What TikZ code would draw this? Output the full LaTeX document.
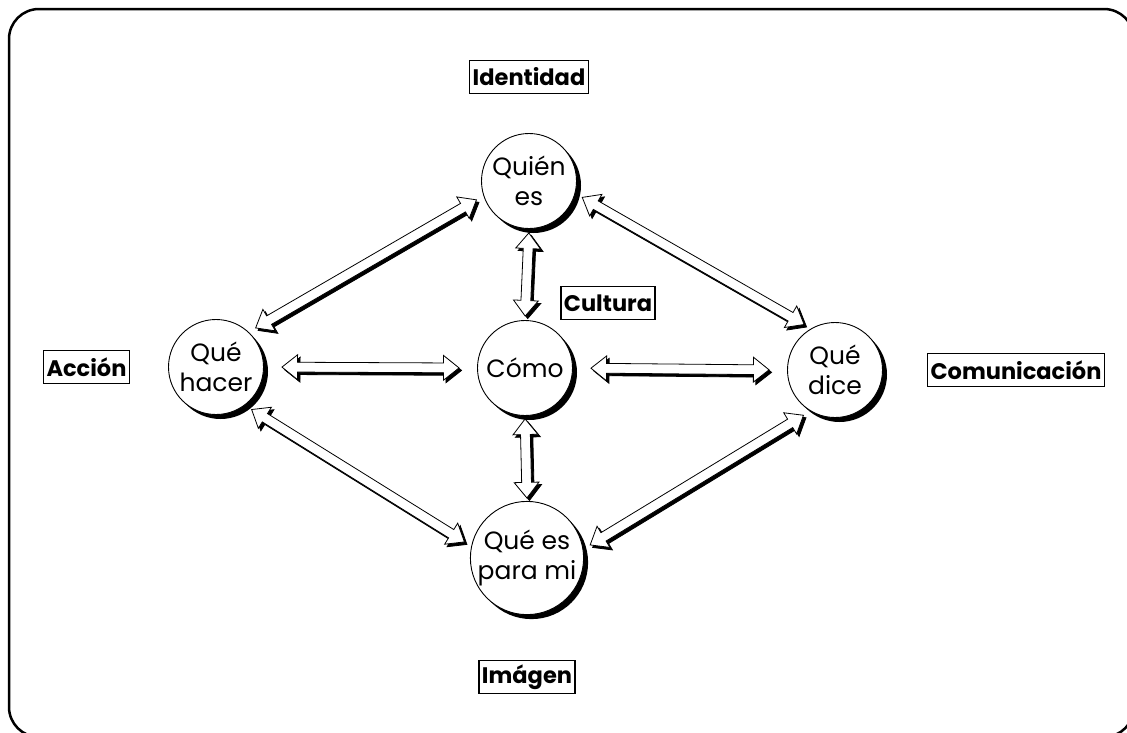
\documentclass[tikz,border=0pt]{standalone}
\usepackage{fontspec}
\setmainfont{Poppins}
\usetikzlibrary{shapes.arrows,shadows,calc,positioning}

\tikzset{
  topic/.style={circle, draw, line width=0.9pt, fill=white, minimum size=95pt, inner sep=0pt,
    align=center, font=\fontsize{25}{30}\selectfont,
    drop shadow={shadow xshift=4.5pt, shadow yshift=-4.5pt, opacity=1, fill=black}},
  tag/.style={draw, line width=1.2pt, inner sep=3pt, minimum height=33pt,
    font=\fontsize{22.5}{26}\selectfont\bfseries},
  arrbody/.style={double arrow, draw, fill=white, line width=0.8pt, inner sep=4.5pt,
    double arrow head extend=7.5pt, double arrow tip angle=77},
  arrshade/.style={arrbody, fill=black},
}

% hollow two-headed arrow between two points, shortened by #1 at both ends
\newcommand{\dblarrow}[3][8]{%
  \path let \p1=(#2), \p2=(#3), \n1={atan2(\y2-\y1,\x2-\x1)},
      \n2={veclen(\x2-\x1,\y2-\y1)-2*#1} in
    node[arrshade, minimum height=\n2, rotate=\n1] at ($(#2)!0.5!(#3)+(2.5pt,-2.5pt)$) {}
    node[arrbody, minimum height=\n2, rotate=\n1] at ($(#2)!0.5!(#3)$) {};
}

\begin{document}
\begin{tikzpicture}[x=1pt, y=-1pt]
    \useasboundingbox (0,0) rectangle (1127,732);
    \draw[line width=2.5pt, rounded corners=30pt] (9,9) rectangle (1134,737);

    \node[topic] at (529,181) (quien)  {Quién\\es};
    \node[topic] at (216,367) (hacer)  {Qué\\hacer};
    \node[topic] at (525,368) (como)   {Cómo};
    \node[topic] at (835,370) (dice)   {Qué\\dice};
    \node[topic] at (527,558) (parami) {Qué es\\para mi};

    \node[tag, above=39pt of quien]  (identidad) {Identidad};
    \node[tag, left=38pt of hacer]   (accion)    {Acción};
    \node[tag, right=44pt of dice]   (comunic)   {Comunicación};
    \node[tag, below=45pt of parami] (imagen)    {Imágen};
    \node[tag] at (608,303)          (cultura)   {Cultura};

    \dblarrow{quien.198}{hacer.47}
    \dblarrow{quien.-15}{dice.120}
    \dblarrow[4]{quien.south}{como.north}
    \dblarrow[18]{hacer.east}{como.west}
    \dblarrow[18]{como.east}{dice.west}
    \dblarrow[3]{como.south}{parami.north}
    \dblarrow{hacer.-53}{parami.168}
    \dblarrow{dice.-121}{parami.9}
\end{tikzpicture}
\end{document}
